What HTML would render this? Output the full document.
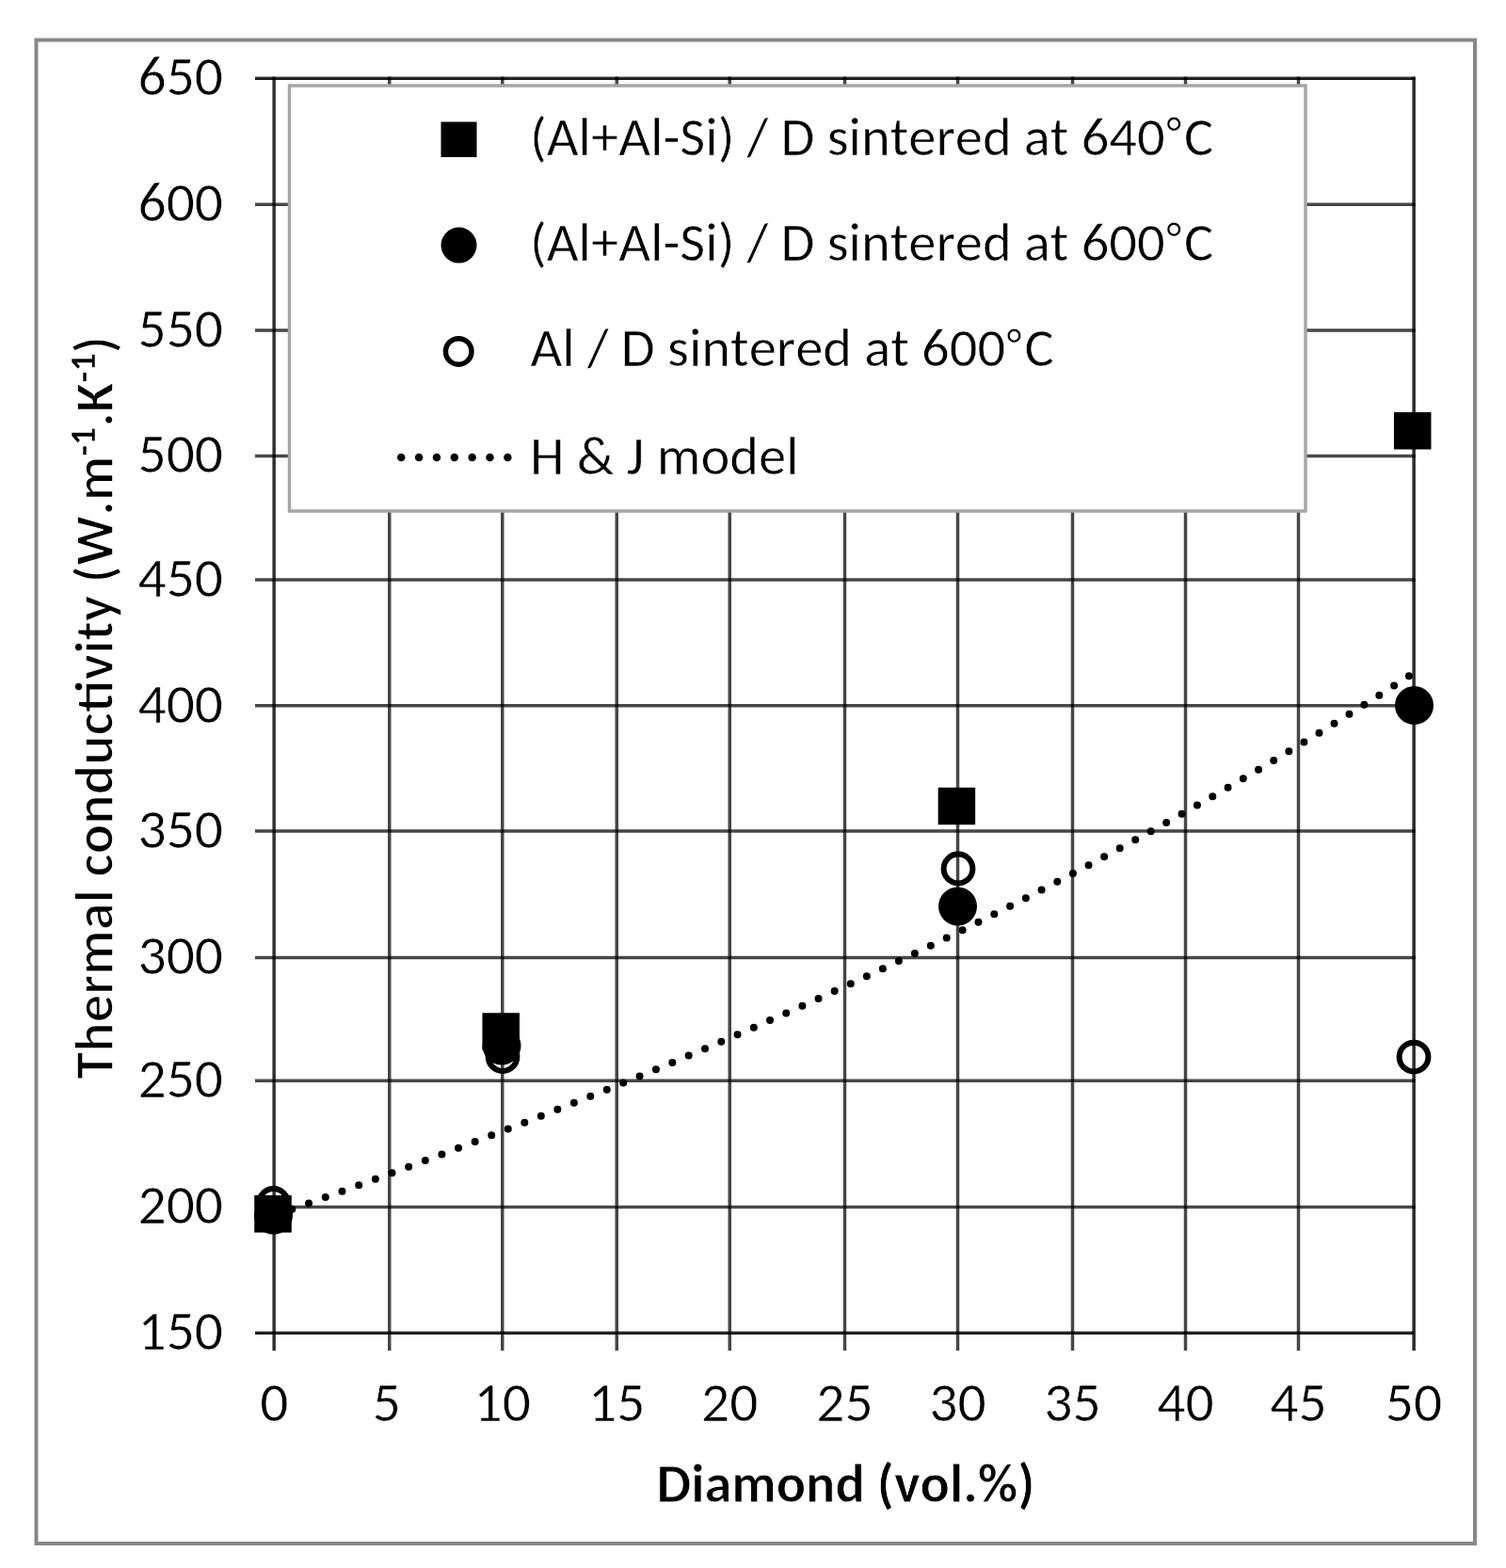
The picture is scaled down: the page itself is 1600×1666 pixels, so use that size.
<!DOCTYPE html>
<html><head><meta charset="utf-8"><title>Thermal conductivity vs Diamond</title>
<style>html,body{margin:0;padding:0;background:#fff;}svg{display:block;} text{font-kerning:none;}</style>
</head><body>
<svg width="1600" height="1666" viewBox="0 0 1600 1666"><rect x="38.5" y="42.5" width="1528.5" height="1597.5" fill="#fff" stroke="#888" stroke-width="4"/>
<g stroke="#000" stroke-opacity="0.72" stroke-width="3.5"><line x1="271" y1="83.3" x2="1503.75" y2="83.3"/><line x1="271" y1="217.3" x2="1503.75" y2="217.3"/><line x1="271" y1="351.0" x2="1503.75" y2="351.0"/><line x1="271" y1="484.4" x2="1503.75" y2="484.4"/><line x1="271" y1="616.0" x2="1503.75" y2="616.0"/><line x1="271" y1="749.7" x2="1503.75" y2="749.7"/><line x1="271" y1="883.1" x2="1503.75" y2="883.1"/><line x1="271" y1="1017.4" x2="1503.75" y2="1017.4"/><line x1="271" y1="1148.2" x2="1503.75" y2="1148.2"/><line x1="271" y1="1282.5" x2="1503.75" y2="1282.5"/><line x1="271" y1="1416.2" x2="1502.0" y2="1416.2"/><line x1="291.25" y1="81.55" x2="291.25" y2="1435"/><line x1="413.75" y1="81.55" x2="413.75" y2="1435"/><line x1="533.75" y1="81.55" x2="533.75" y2="1435"/><line x1="655.25" y1="81.55" x2="655.25" y2="1435"/><line x1="775.25" y1="81.55" x2="775.25" y2="1435"/><line x1="897.5" y1="81.55" x2="897.5" y2="1435"/><line x1="1017.5" y1="81.55" x2="1017.5" y2="1435"/><line x1="1139.5" y1="81.55" x2="1139.5" y2="1435"/><line x1="1259.5" y1="81.55" x2="1259.5" y2="1435"/><line x1="1379.5" y1="81.55" x2="1379.5" y2="1435"/><line x1="1502.0" y1="81.55" x2="1502.0" y2="1435"/></g>
<g stroke="#000" stroke-width="2.6"><line x1="271" y1="1416.5" x2="1502.0" y2="1416.5" stroke-opacity="0.6"/><line x1="271" y1="83.7" x2="1502.0" y2="83.7" stroke-opacity="0.6"/><line x1="1502.6" y1="83.3" x2="1502.6" y2="1435" stroke-opacity="0.45"/><line x1="290.65" y1="83.3" x2="290.65" y2="1435" stroke-opacity="0.3"/></g>
<rect x="307.5" y="91" width="1079.5" height="452" fill="#fff" stroke="#a6a6a6" stroke-width="3.5"/>
<g font-family="Carlito, 'Liberation Sans', sans-serif" font-size="58.5" fill="#000" stroke="#fff" stroke-width="0.5">
<rect x="468.5" y="129.5" width="38" height="37.5" fill="#000" stroke="none"/>
<circle cx="487.5" cy="260.6" r="19" fill="#000" stroke="none"/>
<circle cx="487.2" cy="373.4" r="13.75" fill="none" stroke="#000" stroke-width="5.5"/>
<line x1="426.25" y1="486" x2="540" y2="486" stroke="#000" stroke-width="8.5" stroke-linecap="round" stroke-dasharray="0 18.85"/>
<text x="563" y="164.5" textLength="726.28" lengthAdjust="spacingAndGlyphs">(Al+Al-Si) / D sintered at 640<tspan font-size="47" dy="-7.5" dx="1.5">°</tspan><tspan dy="7.5" dx="3">C</tspan></text>
<text x="563" y="276.5" textLength="726.28" lengthAdjust="spacingAndGlyphs">(Al+Al-Si) / D sintered at 600<tspan font-size="47" dy="-7.5" dx="1.5">°</tspan><tspan dy="7.5" dx="3">C</tspan></text>
<text x="563.5" y="389.2" textLength="556.19" lengthAdjust="spacingAndGlyphs">Al / D sintered at 600<tspan font-size="47" dy="-7.5" dx="1.5">°</tspan><tspan dy="7.5" dx="3">C</tspan></text>
<text x="563" y="504.4" textLength="285.53" lengthAdjust="spacingAndGlyphs">H &amp; J model</text>
</g>
<path d="M291.25,1291.52 L301.42,1287.91 L311.60,1284.29 L321.77,1280.66 L331.95,1277.01 L342.12,1273.35 L352.30,1269.68 L362.47,1266.00 L372.64,1262.30 L382.82,1258.59 L392.99,1254.87 L403.17,1251.13 L413.34,1247.38 L423.52,1243.61 L433.69,1239.83 L443.87,1236.04 L454.04,1232.22 L464.21,1228.40 L474.39,1224.56 L484.56,1220.70 L494.74,1216.83 L504.91,1212.94 L515.09,1209.03 L525.26,1205.11 L535.43,1201.17 L545.61,1197.22 L555.78,1193.24 L565.96,1189.25 L576.13,1185.24 L586.31,1181.21 L596.48,1177.17 L606.66,1173.11 L616.83,1169.02 L627.00,1164.92 L637.18,1160.80 L647.35,1156.66 L657.53,1152.50 L667.70,1148.32 L677.88,1144.12 L688.05,1139.90 L698.22,1135.65 L708.40,1131.39 L718.57,1127.11 L728.75,1122.80 L738.92,1118.47 L749.10,1114.13 L759.27,1109.75 L769.45,1105.36 L779.62,1100.94 L789.79,1096.51 L799.97,1092.04 L810.14,1087.56 L820.32,1083.05 L830.49,1078.52 L840.67,1073.96 L850.84,1069.38 L861.01,1064.77 L871.19,1060.14 L881.36,1055.49 L891.54,1050.81 L901.71,1046.10 L911.89,1041.37 L922.06,1036.62 L932.24,1031.83 L942.41,1027.02 L952.58,1022.19 L962.76,1017.32 L972.93,1012.43 L983.11,1007.51 L993.28,1002.57 L1003.46,997.60 L1013.63,992.60 L1023.80,987.57 L1033.98,982.51 L1044.15,977.42 L1054.33,972.31 L1064.50,967.16 L1074.68,961.99 L1084.85,956.78 L1095.03,951.55 L1105.20,946.29 L1115.37,940.99 L1125.55,935.67 L1135.72,930.31 L1145.90,924.92 L1156.07,919.50 L1166.25,914.05 L1176.42,908.57 L1186.59,903.06 L1196.77,897.51 L1206.94,891.93 L1217.12,886.32 L1227.29,880.68 L1237.47,875.00 L1247.64,869.29 L1257.82,863.54 L1267.99,857.76 L1278.16,851.95 L1288.34,846.10 L1298.51,840.22 L1308.69,834.30 L1318.86,828.35 L1329.04,822.36 L1339.21,816.34 L1349.38,810.28 L1359.56,804.19 L1369.73,798.06 L1379.91,791.89 L1390.08,785.68 L1400.26,779.44 L1410.43,773.16 L1420.61,766.84 L1430.78,760.49 L1440.95,754.10 L1451.13,747.67 L1461.30,741.20 L1471.48,734.69 L1481.65,728.14 L1491.83,721.56 L1502.00,714.93" fill="none" stroke="#000" stroke-width="8" stroke-linecap="round" stroke-dasharray="0 18.83" stroke-dashoffset="-1.4"/>
<rect x="270.25" y="1270.05" width="39.5" height="39.5" fill="#000"/>
<rect x="512.45" y="1076.25" width="39.5" height="39.5" fill="#000"/>
<rect x="996.65" y="836.75" width="39.5" height="39.5" fill="#000"/>
<rect x="1480.95" y="437.95" width="39.5" height="39.5" fill="#000"/>
<circle cx="290.50" cy="1291.10" r="20.5" fill="#000"/>
<circle cx="533.00" cy="1111.00" r="20.5" fill="#000"/>
<circle cx="1017.50" cy="963.00" r="20.5" fill="#000"/>
<circle cx="1502.50" cy="749.40" r="20.5" fill="#000"/>
<circle cx="290.50" cy="1278.50" r="15.4" fill="none" stroke="#000" stroke-width="6"/>
<circle cx="534.00" cy="1122.60" r="15.4" fill="none" stroke="#000" stroke-width="6"/>
<circle cx="1018.00" cy="923.00" r="15.4" fill="none" stroke="#000" stroke-width="6"/>
<circle cx="1502.00" cy="1123.10" r="15.4" fill="none" stroke="#000" stroke-width="6"/>
<g font-family="Carlito, 'Liberation Sans', sans-serif" font-size="59.5" fill="#000" stroke="#fff" stroke-width="0.5">
<text x="237" y="101.1" text-anchor="end" textLength="90.48" lengthAdjust="spacingAndGlyphs">650</text>
<text x="237" y="235.1" text-anchor="end" textLength="90.48" lengthAdjust="spacingAndGlyphs">600</text>
<text x="237" y="368.8" text-anchor="end" textLength="90.48" lengthAdjust="spacingAndGlyphs">550</text>
<text x="237" y="502.2" text-anchor="end" textLength="90.48" lengthAdjust="spacingAndGlyphs">500</text>
<text x="237" y="633.8" text-anchor="end" textLength="90.48" lengthAdjust="spacingAndGlyphs">450</text>
<text x="237" y="767.5" text-anchor="end" textLength="90.48" lengthAdjust="spacingAndGlyphs">400</text>
<text x="237" y="900.9" text-anchor="end" textLength="90.48" lengthAdjust="spacingAndGlyphs">350</text>
<text x="237" y="1035.2" text-anchor="end" textLength="90.48" lengthAdjust="spacingAndGlyphs">300</text>
<text x="237" y="1166.0" text-anchor="end" textLength="90.48" lengthAdjust="spacingAndGlyphs">250</text>
<text x="237" y="1300.3" text-anchor="end" textLength="90.48" lengthAdjust="spacingAndGlyphs">200</text>
<text x="237" y="1434.0" text-anchor="end" textLength="90.48" lengthAdjust="spacingAndGlyphs">150</text>
<text x="291.25" y="1509.8" text-anchor="middle" textLength="30.17" lengthAdjust="spacingAndGlyphs">0</text>
<text x="410.75" y="1509.8" text-anchor="middle" textLength="30.17" lengthAdjust="spacingAndGlyphs">5</text>
<text x="533.75" y="1509.8" text-anchor="middle" textLength="60.33" lengthAdjust="spacingAndGlyphs">10</text>
<text x="655.25" y="1509.8" text-anchor="middle" textLength="60.33" lengthAdjust="spacingAndGlyphs">15</text>
<text x="775.25" y="1509.8" text-anchor="middle" textLength="60.33" lengthAdjust="spacingAndGlyphs">20</text>
<text x="897.50" y="1509.8" text-anchor="middle" textLength="60.33" lengthAdjust="spacingAndGlyphs">25</text>
<text x="1017.50" y="1509.8" text-anchor="middle" textLength="60.33" lengthAdjust="spacingAndGlyphs">30</text>
<text x="1139.50" y="1509.8" text-anchor="middle" textLength="60.33" lengthAdjust="spacingAndGlyphs">35</text>
<text x="1259.50" y="1509.8" text-anchor="middle" textLength="60.33" lengthAdjust="spacingAndGlyphs">40</text>
<text x="1379.50" y="1509.8" text-anchor="middle" textLength="60.33" lengthAdjust="spacingAndGlyphs">45</text>
<text x="1502.00" y="1509.8" text-anchor="middle" textLength="60.33" lengthAdjust="spacingAndGlyphs">50</text>
</g>
<text x="898.5" y="1596.3" text-anchor="middle" font-family="Carlito, 'Liberation Sans', sans-serif" font-size="58.3" font-weight="bold" stroke="#fff" stroke-width="0.8" textLength="402.0" lengthAdjust="spacingAndGlyphs">Diamond (vol.%)</text>
<text transform="translate(119.8,752) rotate(-90)" x="0" y="0" text-anchor="middle" font-family="Carlito, 'Liberation Sans', sans-serif" font-size="58.6" font-weight="bold" stroke="#fff" stroke-width="1.6" textLength="789.53" lengthAdjust="spacingAndGlyphs">Thermal conductivity (W.m<tspan dy="-18.4" font-size="37.7" stroke-width="0.5">-1</tspan><tspan dy="18.4">.K</tspan><tspan dy="-18.4" font-size="37.7" stroke-width="0.5">-1</tspan><tspan dy="18.4">)</tspan></text></svg>
</body></html>
